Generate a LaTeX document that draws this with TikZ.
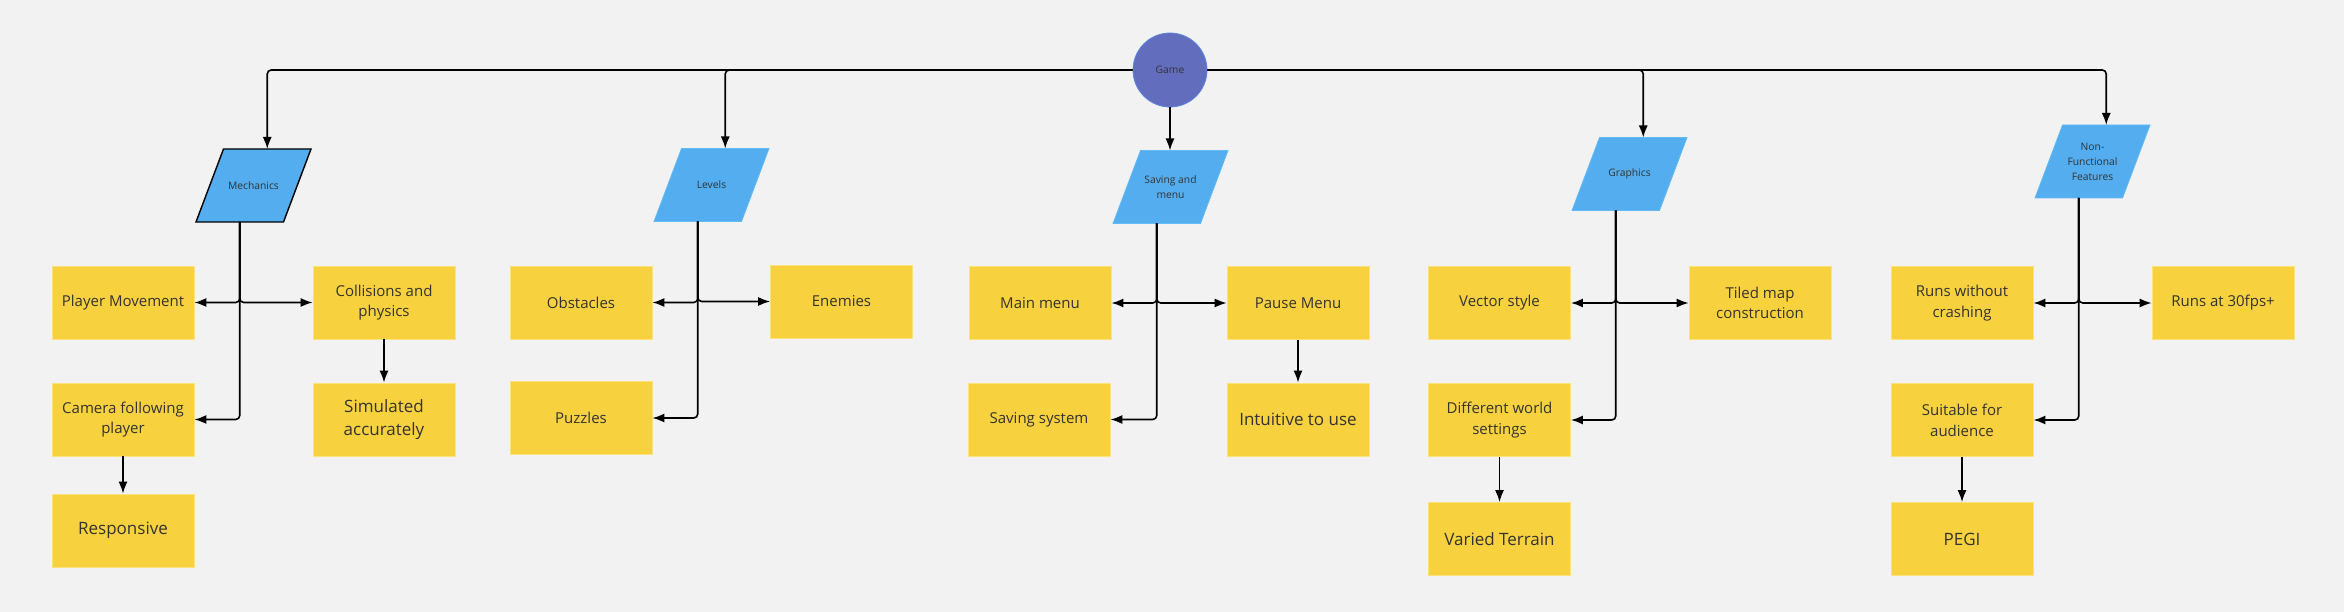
\documentclass[tikz,border=0pt]{standalone}
\usepackage{fontspec}
\setmainfont{Open Sans}
\usetikzlibrary{arrows.meta}
\definecolor{bg}{HTML}{F2F2F2}
\definecolor{yel}{HTML}{F8D13F}
\definecolor{yelb}{HTML}{FBE27A}
\definecolor{blu}{HTML}{53ADEF}
\definecolor{blub}{HTML}{62BBF5}
\definecolor{gamef}{HTML}{636DBE}
\definecolor{gameb}{HTML}{5B86DD}
\definecolor{txt}{HTML}{333333}
% parallelogram: name, x, y, border colour, border width, text
\newcommand\myparal[6]{%
  \filldraw[fill=blu, draw=#4, line width=#5, line join=miter]
    (#2-57.5,#3+36.5) -- (#2-30,#3-36.5) -- (#2+57.5,#3-36.5) -- (#2+30,#3+36.5) -- cycle;
  \node[paratext] (#1) at (#2,#3) {#6};
  \coordinate (#1top) at (#2+13.75,#3-36.5);
  \coordinate (#1bot) at (#2-13.75,#3+36.5);
}
\begin{document}
\begin{tikzpicture}[x=1pt,y=-1pt,
  sticky/.style={rectangle, fill=yel, draw=yelb, line width=0.8pt, minimum width=142pt, minimum height=73pt, inner sep=0pt, align=center, text=txt, font=\fontsize{15}{20.7}\selectfont},
  bigsticky/.style={sticky, font=\fontsize{17}{23}\selectfont},
  paratext/.style={rectangle, minimum width=60pt, minimum height=50pt, inner sep=0pt, align=center, text=txt, font=\fontsize{10.3}{15}\selectfont},
  conn/.style={draw=black, line width=1.6pt, rounded corners=4pt, -{Latex[length=12pt,width=9pt]}}]
\useasboundingbox[fill=bg] (0,0) rectangle (2344,612);

\node[circle, minimum size=74pt, inner sep=0pt, fill=gamef, draw=gameb, line width=0.8pt, text=txt, font=\fontsize{10.3}{15}\selectfont] (game) at (1170,70) {Game};

\myparal{mech}{253.5}{185.5}{black}{1.4pt}{Mechanics}
\myparal{lev}{711.5}{185}{blub}{0.8pt}{Levels}
\myparal{sav}{1170.5}{187}{blub}{0.8pt}{Saving and\\menu}
\myparal{gra}{1629.5}{174}{blub}{0.8pt}{Graphics}
\myparal{nff}{2092.5}{161.5}{blub}{0.8pt}{Non-\\Functional\\Features}

\node[sticky] (pm) at (123,302.5) {Player Movement};
\node[sticky] (coll) at (384,302.5) {Collisions and\\physics};
\node[sticky] (cam) at (123,419.5) {Camera following\\player};
\node[bigsticky] (sim) at (384,419.5) {Simulated\\accurately};
\node[bigsticky] (resp) at (123,530.5) {Responsive};

\node[sticky] (obs) at (581,302.5) {Obstacles};
\node[sticky] (ene) at (841.5,301.5) {Enemies};
\node[sticky] (puz) at (581,418) {Puzzles};

\node[sticky] (mm) at (1040,303) {Main menu};
\node[sticky] (pau) at (1298,303) {Pause Menu};
\node[sticky] (ss) at (1039,419.5) {Saving system};
\node[bigsticky] (intu) at (1298,419.5) {Intuitive to use};

\node[sticky] (vec) at (1499.5,303) {Vector style};
\node[sticky] (til) at (1760,303) {Tiled map\\construction};
\node[sticky] (dif) at (1499.5,420) {Different world\\settings};
\node[bigsticky] (var) at (1499.5,539) {Varied Terrain};

\node[sticky] (rwc) at (1962,303) {Runs without\\crashing};
\node[sticky] (r30) at (2223,303) {Runs at 30fps+};
\node[sticky] (sui) at (1962,420) {Suitable for\\audience};
\node[bigsticky] (pegi) at (1962,539) {PEGI};

% from Game
\draw[conn] (game.west) -| (mechtop);
\draw[conn] (game.west) -| (levtop);
\draw[conn] (game.south) -- (game.south |- savtop);
\draw[conn] (game.east) -| (gratop);
\draw[conn] (game.east) -| (nfftop);

% Mechanics
\draw[conn] (mechbot) |- (pm.east);
\draw[conn] (mechbot) |- (coll.west);
\draw[conn] (mechbot) |- (cam.east);
\draw[conn] (coll.south) -- (sim.north);
\draw[conn] (cam.south) -- (resp.north);

% Levels
\draw[conn] (levbot) |- (obs.east);
\draw[conn] (levbot) |- (ene.west);
\draw[conn] (levbot) |- (puz.east);

% Saving
\draw[conn] (savbot) |- (mm.east);
\draw[conn] (savbot) |- (pau.west);
\draw[conn] (savbot) |- (ss.east);
\draw[conn] (pau.south) -- (intu.north);

% Graphics
\draw[conn] (grabot) |- (vec.east);
\draw[conn] (grabot) |- (til.west);
\draw[conn] (grabot) |- (dif.east);
\draw[conn] (dif.south) -- (var.north);

% NFF
\draw[conn] (nffbot) |- (rwc.east);
\draw[conn] (nffbot) |- (r30.west);
\draw[conn] (nffbot) |- (sui.east);
\draw[conn] (sui.south) -- (pegi.north);
\end{tikzpicture}
\end{document}
